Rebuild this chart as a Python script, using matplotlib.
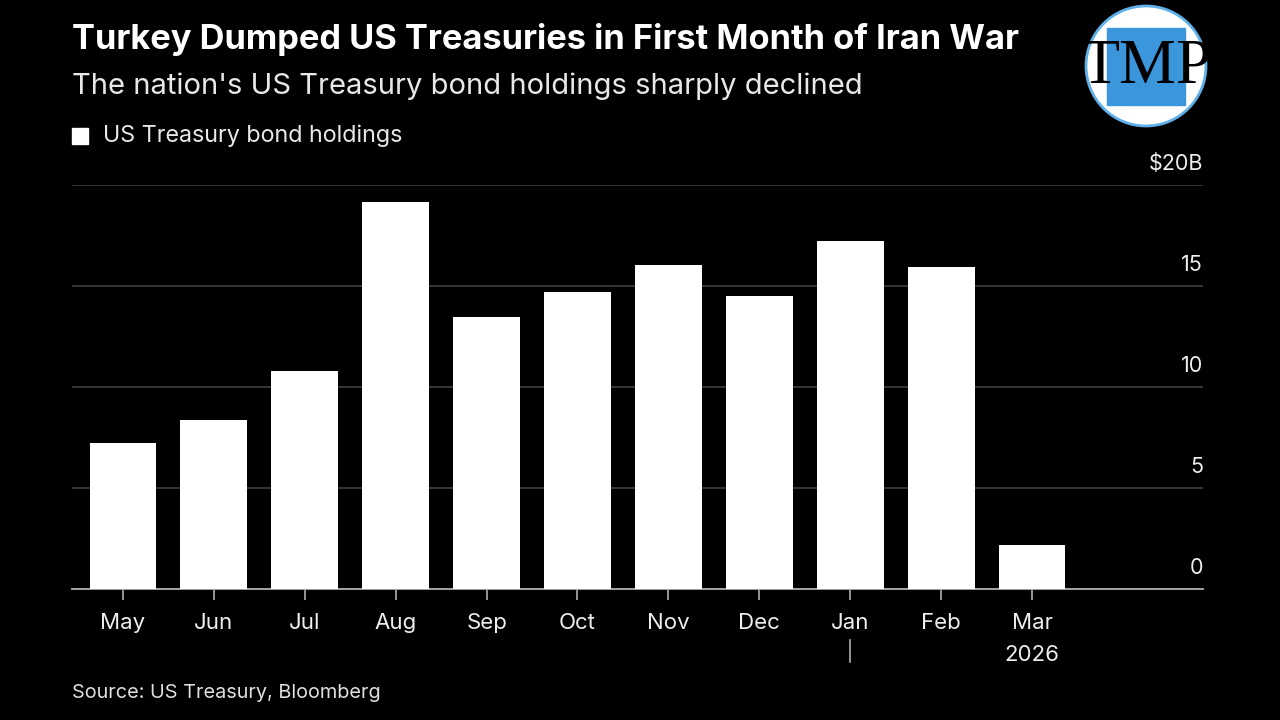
import matplotlib.pyplot as plt
import matplotlib.transforms as mtransforms
from matplotlib.patches import Circle, Rectangle

plt.rcParams['font.family'] = ['Inter', 'DejaVu Sans']

# data (US$ billions)
months = ['May', 'Jun', 'Jul', 'Aug', 'Sep', 'Oct', 'Nov', 'Dec', 'Jan', 'Feb', 'Mar']
holdings = [7.25, 8.35, 10.8, 19.15, 13.45, 14.7, 16.05, 14.5, 17.25, 15.95, 2.2]
yticks = [0, 5, 10, 15, 20]
ylabels = ['0', '5', '10', '15', '$20B']

fig = plt.figure(figsize=(12.8, 7.2), dpi=100, facecolor='black')
ax = fig.add_axes([0.05625, 0.1819, 0.8836, 0.5611], facecolor='black')

x = list(range(len(months)))
bars = ax.bar(x, holdings, width=0.735, color='white', zorder=3,
              label='US Treasury bond holdings')

ax.set_xlim(-0.56, 11.88)
ax.set_ylim(0, 20)
ax.set_axisbelow(True)

# grid lines
ax.set_yticks(yticks)
ax.yaxis.grid(True, color='#3a3a3a', linewidth=1.3)
ax.tick_params(axis='y', left=False, labelleft=False)
for v, lab in zip(yticks, ylabels):
    ax.annotate(lab, xy=(1.0, v), xycoords=('axes fraction', 'data'),
                xytext=(0, 8), textcoords='offset points',
                ha='right', va='bottom', color='#eeeeee', fontsize=15.5)

for s in ['top', 'right', 'left']:
    ax.spines[s].set_visible(False)
ax.spines['bottom'].set_color('#b0b0b0')
ax.spines['bottom'].set_linewidth(1.3)

ax.set_xticks(x)
ax.set_xticklabels(months)
ax.tick_params(axis='x', colors='#b0b0b0', length=8, width=1.2, pad=9,
               labelcolor='#eeeeee', labelsize=16)

# year marker under Jan and year label under Mar
trans = mtransforms.blended_transform_factory(ax.transData, ax.transAxes)
jan = months.index('Jan')
ax.plot([jan, jan], [-0.126, -0.181], color='#b0b0b0', lw=1.2,
        transform=trans, clip_on=False)
ax.text(months.index('Mar'), -0.163, '2026', transform=trans, ha='center',
        va='center', color='#eeeeee', fontsize=16)

# titles
fig.text(72 / 1280, 1 - 39 / 720, 'Turkey Dumped US Treasuries in First Month of Iran War',
         color='white', fontsize=24.8, fontweight='bold', va='center', ha='left')
fig.text(72 / 1280, 1 - 86 / 720, "The nation's US Treasury bond holdings sharply declined",
         color='#e8e8e8', fontsize=21, va='center', ha='left')

# legend
fig.patches.append(Rectangle((72 / 1280, 1 - 144 / 720), 16 / 1280, 16 / 720,
                             transform=fig.transFigure, color='white'))
fig.text(103 / 1280, 1 - 136 / 720, 'US Treasury bond holdings',
         color='#e8e8e8', fontsize=16.8, va='center', ha='left')

# source
fig.text(72 / 1280, 1 - 693 / 720, 'Source: US Treasury, Bloomberg',
         color='#e0e0e0', fontsize=14.3, va='center', ha='left')

# logo
lax = fig.add_axes([1080 / 1280, 1 - 132 / 720, 132 / 1280, 132 / 720])
lax.set_xlim(0, 132)
lax.set_ylim(132, 0)
lax.axis('off')
lax.add_patch(Circle((66, 66), 60, facecolor='white', edgecolor='#5fb0e8', lw=2))
lax.add_patch(Rectangle((27, 28), 78, 77, color='#3b96dc'))
lax.text(66, 68, 'TMP', family='Liberation Serif', fontsize=46, color='black',
         ha='center', va='center')

fig.savefig('out.png', dpi=100, facecolor='black')
